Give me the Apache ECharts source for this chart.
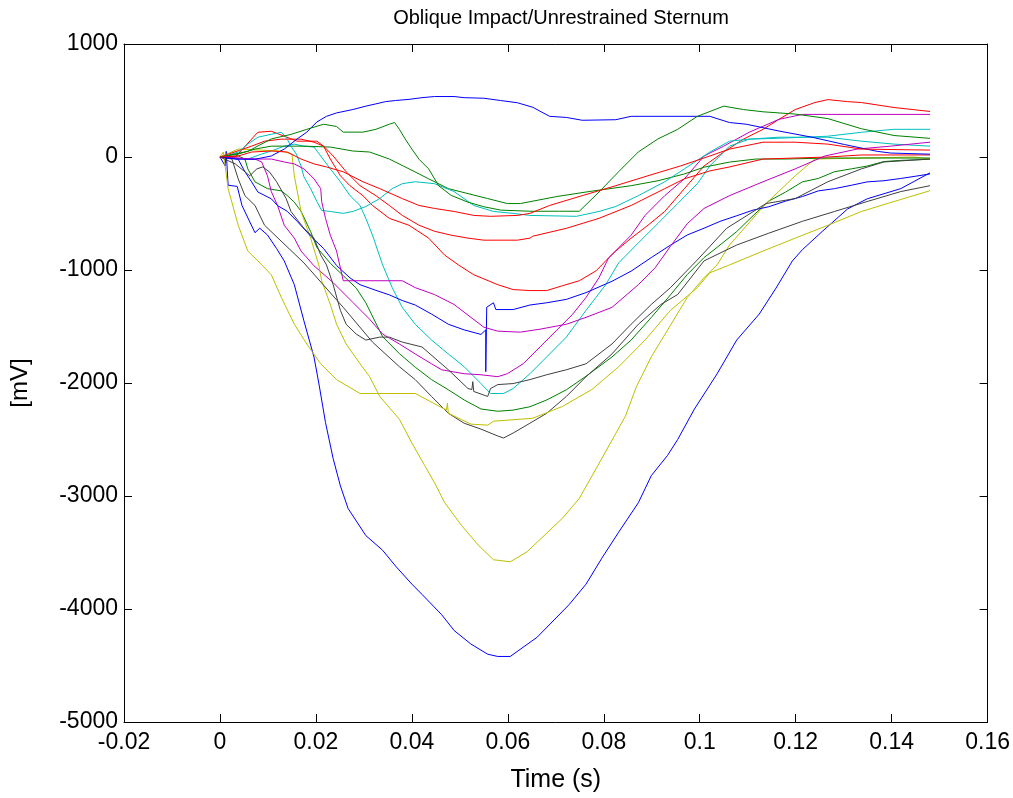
<!DOCTYPE html>
<html>
<head>
<meta charset="utf-8">
<title>Oblique Impact/Unrestrained Sternum</title>
<script src="https://cdn.jsdelivr.net/npm/echarts@6.0.0/dist/echarts.min.js"></script>
<style>
  html, body { margin: 0; padding: 0; background: #fff; }
  #chart { width: 1013px; height: 798px; }
</style>
</head>
<body>
<div id="chart"></div>
<script>
// axis ticks
var xTicks = [-0.02, 0, 0.02, 0.04, 0.06, 0.08, 0.1, 0.12, 0.14, 0.16];
var yTicks = [-5000, -4000, -3000, -2000, -1000, 0, 1000];

// traces [time s, mV]
var blue1 = [[0,0],[0.0011,-80],[0.0013,50],[0.0017,-250],[0.0036,-260],[0.0046,-430],[0.0073,-670],[0.0083,-630],[0.0099,-690],[0.0118,-810],[0.0134,-920],[0.0155,-1130],[0.0175,-1450],[0.0196,-1770],[0.0206,-2000],[0.022,-2350],[0.0236,-2670],[0.0251,-2910],[0.0267,-3110],[0.0304,-3350],[0.0339,-3480],[0.0366,-3620],[0.04,-3780],[0.0421,-3870],[0.0462,-4050],[0.0488,-4190],[0.0523,-4310],[0.0558,-4400],[0.0579,-4420],[0.0605,-4420],[0.0661,-4250],[0.0728,-3960],[0.0763,-3780],[0.0796,-3550],[0.0831,-3320],[0.0872,-3060],[0.0899,-2820],[0.0933,-2640],[0.0954,-2500],[0.0989,-2230],[0.1036,-1920],[0.1077,-1620],[0.1124,-1390],[0.1159,-1160],[0.1193,-920],[0.1214,-820],[0.1255,-660],[0.1308,-460],[0.1349,-370],[0.1419,-280],[0.148,-140]];
var green1 = [[0,0],[0.0038,9],[0.0052,-18],[0.0058,-105],[0.0073,-220],[0.0099,-280],[0.0128,-300],[0.014,-340],[0.0155,-400],[0.0169,-480],[0.0189,-660],[0.0202,-800],[0.023,-940],[0.0257,-1050],[0.0284,-1160],[0.0304,-1290],[0.0325,-1470],[0.0339,-1590],[0.0374,-1740],[0.0407,-1860],[0.0441,-1970],[0.0476,-2060],[0.0509,-2150],[0.0544,-2230],[0.0579,-2250],[0.0611,-2240],[0.0646,-2210],[0.0681,-2150],[0.0722,-2060],[0.0763,-1940],[0.0817,-1770],[0.0857,-1620],[0.0899,-1420],[0.0939,-1220],[0.0974,-1040],[0.1009,-890],[0.1036,-800],[0.1077,-660],[0.1111,-520],[0.1144,-390],[0.1179,-310],[0.1214,-220],[0.1247,-190],[0.1281,-130],[0.1316,-105],[0.1349,-80],[0.1384,-40],[0.1419,-30],[0.148,-20]];
var red1 = [[0,0],[0.0032,0],[0.0079,219],[0.0107,228],[0.0134,184],[0.0161,140],[0.0202,140],[0.0216,96],[0.023,-18],[0.0251,-166],[0.0271,-254],[0.0298,-342],[0.0318,-429],[0.0353,-543],[0.0394,-604],[0.0435,-718],[0.0468,-867],[0.0497,-955],[0.0529,-1042],[0.0544,-1068],[0.0579,-1130],[0.0611,-1173],[0.0646,-1182],[0.0681,-1182],[0.0714,-1139],[0.0749,-1095],[0.0784,-1007],[0.081,-893],[0.0825,-832],[0.0857,-718],[0.0892,-604],[0.0927,-482],[0.0968,-280],[0.1009,-79],[0.105,44],[0.1091,158],[0.1132,245],[0.1165,333],[0.1199,420],[0.124,482],[0.1267,508],[0.1308,490],[0.1337,482],[0.1405,438],[0.148,403]];
var cyan1 = [[0,0],[0.0058,-18],[0.0087,26],[0.0107,53],[0.0134,96],[0.0155,114],[0.0175,96],[0.0196,88],[0.021,9],[0.023,-105],[0.0251,-219],[0.0271,-342],[0.0292,-429],[0.0304,-543],[0.0318,-692],[0.0339,-955],[0.0359,-1156],[0.038,-1331],[0.0407,-1480],[0.0441,-1620],[0.0476,-1743],[0.0509,-1856],[0.0544,-2005],[0.0564,-2093],[0.0591,-2093],[0.0611,-2049],[0.0646,-1918],[0.0681,-1769],[0.0722,-1594],[0.0763,-1357],[0.0804,-1130],[0.0831,-937],[0.0872,-760],[0.0913,-587],[0.0954,-412],[0.0995,-236],[0.1021,-79],[0.1062,96],[0.1103,158],[0.1165,166],[0.1267,184],[0.1337,219],[0.1405,245],[0.148,245]];
var magenta1 = [[0,0],[0.0073,-18],[0.0087,-44],[0.0099,-166],[0.0107,-306],[0.012,-429],[0.0134,-604],[0.0155,-718],[0.0169,-832],[0.0196,-963],[0.0236,-1112],[0.0277,-1287],[0.0312,-1436],[0.0339,-1567],[0.0374,-1655],[0.0407,-1743],[0.0441,-1830],[0.0462,-1883],[0.0509,-1918],[0.0544,-1927],[0.0579,-1944],[0.0599,-1918],[0.0632,-1830],[0.0667,-1681],[0.0702,-1532],[0.0735,-1392],[0.0763,-1243],[0.079,-1068],[0.081,-893],[0.0857,-692],[0.0886,-517],[0.0927,-342],[0.0968,-193],[0.1009,9],[0.105,96],[0.1103,219],[0.1165,333],[0.1214,377],[0.1267,377],[0.148,377]];
var yellow1 = [[0,0],[0.0038,70],[0.0128,53],[0.015,26],[0.0155,-166],[0.0169,-482],[0.0189,-718],[0.0206,-955],[0.0212,-1095],[0.023,-1305],[0.0243,-1480],[0.0263,-1655],[0.0292,-1830],[0.0312,-1944],[0.0333,-2119],[0.0374,-2321],[0.04,-2531],[0.0427,-2732],[0.0447,-2881],[0.0468,-3056],[0.0503,-3258],[0.0538,-3433],[0.057,-3564],[0.0605,-3582],[0.064,-3494],[0.0714,-3196],[0.0749,-3021],[0.0784,-2758],[0.0845,-2294],[0.0868,-2032],[0.0899,-1769],[0.0939,-1489],[0.0974,-1243],[0.1009,-1068],[0.1036,-955],[0.1062,-779],[0.1138,-412],[0.1199,-166],[0.124,-18],[0.1337,-9],[0.1446,0],[0.148,-18]];
var gray1 = [[0,0],[0.0025,-18],[0.0038,-193],[0.0052,-342],[0.0073,-429],[0.0093,-604],[0.0175,-937],[0.0257,-1331],[0.0318,-1638],[0.0374,-1856],[0.0407,-1970],[0.0441,-2119],[0.0476,-2268],[0.0509,-2356],[0.0544,-2408],[0.0579,-2469],[0.0591,-2487],[0.0611,-2443],[0.0646,-2356],[0.0681,-2268],[0.0722,-2119],[0.0763,-1944],[0.0817,-1743],[0.0872,-1480],[0.0919,-1305],[0.0954,-1217],[0.1009,-919],[0.1077,-779],[0.1144,-674],[0.1214,-569],[0.1281,-482],[0.1349,-394],[0.1419,-306],[0.148,-254]];
var blue2 = [[0,0],[0.0038,-20],[0.0052,-130],[0.0066,-220],[0.0079,-310],[0.0107,-370],[0.012,-430],[0.014,-480],[0.0161,-570],[0.0189,-700],[0.0216,-810],[0.0243,-960],[0.0271,-1070],[0.0292,-1130],[0.0325,-1180],[0.0353,-1220],[0.038,-1270],[0.0407,-1310],[0.0441,-1390],[0.0476,-1480],[0.0509,-1530],[0.0544,-1570],[0.0554,-1530],[0.0554,-1900],[0.0556,-1330],[0.057,-1290],[0.0575,-1350],[0.0611,-1350],[0.0646,-1310],[0.0681,-1290],[0.0722,-1260],[0.0763,-1200],[0.0817,-1100],[0.0857,-1010],[0.0899,-890],[0.0939,-780],[0.0974,-690],[0.1009,-630],[0.1042,-570],[0.1077,-520],[0.1111,-470],[0.1144,-440],[0.1179,-390],[0.1214,-350],[0.1247,-300],[0.1281,-280],[0.1316,-250],[0.1349,-220],[0.1384,-210],[0.1419,-190],[0.145,-170],[0.148,-150]];
var green2 = [[0,0],[0.0038,26],[0.0073,70],[0.0107,96],[0.014,96],[0.0175,96],[0.023,88],[0.0277,53],[0.0312,44],[0.0353,-18],[0.0394,-105],[0.0435,-193],[0.0476,-280],[0.0517,-324],[0.0558,-368],[0.0599,-412],[0.0626,-412],[0.0702,-350],[0.0769,-306],[0.0857,-254],[0.0913,-210],[0.0968,-150],[0.1009,-90],[0.1062,-45],[0.1117,-18],[0.1179,-18],[0.1267,-9],[0.148,-9]];
var red2 = [[0,0],[0.0066,96],[0.0093,140],[0.0128,158],[0.0169,158],[0.0196,131],[0.0216,96],[0.0236,9],[0.0263,-131],[0.0292,-254],[0.0325,-342],[0.0353,-429],[0.038,-517],[0.0415,-604],[0.0447,-657],[0.0482,-692],[0.0517,-718],[0.055,-736],[0.062,-736],[0.0646,-718],[0.0652,-701],[0.0722,-631],[0.079,-543],[0.0857,-429],[0.0927,-280],[0.0968,-193],[0.1021,-123],[0.1062,-88],[0.1132,-18],[0.1199,-9],[0.1267,0],[0.1337,18],[0.148,18]];
var cyan2 = [[0,0],[0.0005,0],[0.0038,44],[0.0058,114],[0.0079,175],[0.0107,201],[0.0128,219],[0.0138,175],[0.0148,96],[0.0159,26],[0.0169,-79],[0.0175,-175],[0.0189,-280],[0.0202,-394],[0.0212,-473],[0.023,-482],[0.0257,-499],[0.0277,-482],[0.0304,-438],[0.0333,-368],[0.0359,-280],[0.038,-236],[0.0407,-219],[0.0447,-236],[0.0488,-306],[0.0529,-429],[0.057,-482],[0.0611,-499],[0.0646,-517],[0.0743,-525],[0.079,-482],[0.0825,-438],[0.0872,-342],[0.0927,-219],[0.0968,-105],[0.1021,44],[0.1062,140],[0.1103,158],[0.1165,175],[0.1267,175],[0.1337,140],[0.1405,114],[0.148,96]];
var magenta2 = [[0,0],[0.0058,-18],[0.0107,-18],[0.0134,-44],[0.0155,-61],[0.0175,-105],[0.0196,-193],[0.021,-280],[0.0212,-394],[0.022,-543],[0.023,-692],[0.0243,-832],[0.0257,-1095],[0.038,-1095],[0.0407,-1156],[0.0447,-1217],[0.0488,-1305],[0.0523,-1419],[0.055,-1506],[0.0579,-1541],[0.0626,-1550],[0.0667,-1524],[0.0722,-1480],[0.0763,-1419],[0.0817,-1331],[0.0872,-1130],[0.0907,-980],[0.0939,-790],[0.0974,-590],[0.1009,-455],[0.1062,-342],[0.1132,-219],[0.1199,-105],[0.1261,9],[0.1328,70],[0.1398,96],[0.148,131]];
var yellow2 = [[0,0],[0.0007,44],[0.0017,-280],[0.0038,-604],[0.0058,-832],[0.0079,-919],[0.0107,-1042],[0.0128,-1243],[0.0155,-1480],[0.0181,-1655],[0.021,-1830],[0.0243,-1970],[0.0292,-2093],[0.0407,-2093],[0.0472,-2240],[0.0474,-2180],[0.0476,-2268],[0.0523,-2364],[0.0558,-2373],[0.057,-2338],[0.0652,-2312],[0.0714,-2207],[0.0775,-2058],[0.0831,-1856],[0.0886,-1620],[0.0939,-1357],[0.0995,-1156],[0.1021,-1025],[0.1062,-955],[0.1132,-832],[0.1199,-718],[0.1267,-604],[0.1337,-482],[0.1405,-394],[0.148,-298]];
var gray2 = [[0,0],[0.0032,-61],[0.0062,-166],[0.0077,-105],[0.0089,-88],[0.0103,-131],[0.0118,-219],[0.0138,-368],[0.0148,-482],[0.0175,-631],[0.0196,-718],[0.021,-867],[0.0222,-955],[0.0236,-1130],[0.0251,-1357],[0.0263,-1480],[0.0284,-1567],[0.0304,-1620],[0.0333,-1594],[0.0353,-1594],[0.038,-1638],[0.0421,-1681],[0.0476,-1883],[0.0517,-2049],[0.0525,-2058],[0.0527,-1988],[0.0529,-2075],[0.0558,-2119],[0.0564,-2049],[0.0579,-2014],[0.0611,-2005],[0.0646,-1970],[0.0681,-1927],[0.0722,-1883],[0.0763,-1830],[0.0817,-1655],[0.0857,-1480],[0.0899,-1305],[0.0939,-1156],[0.0995,-911],[0.1056,-631],[0.1138,-412],[0.1199,-368],[0.1267,-219],[0.1337,-105],[0.1384,-44],[0.148,-18]];
var blue3 = [[0,0],[0.0038,-20],[0.0073,-20],[0.0107,9],[0.0134,70],[0.0161,160],[0.0181,220],[0.0202,310],[0.0222,360],[0.0243,390],[0.0277,420],[0.0304,450],[0.0325,470],[0.0345,490],[0.0366,500],[0.0394,510],[0.0421,525],[0.0447,535],[0.0488,535],[0.0509,525],[0.055,520],[0.0585,500],[0.062,480],[0.0652,440],[0.0687,360],[0.0722,350],[0.0755,325],[0.0825,330],[0.0857,360],[0.1021,360],[0.1062,305],[0.1097,290],[0.1165,230],[0.1234,175],[0.1302,110],[0.137,50],[0.1398,35],[0.148,25]];
var green3 = [[0,0],[0.0058,50],[0.0107,160],[0.0148,200],[0.0181,245],[0.0216,290],[0.0243,270],[0.0257,220],[0.0298,220],[0.0325,245],[0.0353,290],[0.0364,305],[0.0374,245],[0.0386,160],[0.04,70],[0.0415,-20],[0.0435,-105],[0.0456,-255],[0.0482,-340],[0.0517,-400],[0.055,-440],[0.0585,-470],[0.0646,-480],[0.0708,-480],[0.0749,-480],[0.079,-310],[0.0831,-130],[0.0872,45],[0.0913,160],[0.0954,245],[0.0995,360],[0.105,450],[0.1091,420],[0.1132,400],[0.1199,380],[0.1267,340],[0.1337,250],[0.1405,190],[0.148,165]];
var red3 = [[0,0],[0.0038,9],[0.0066,44],[0.0107,53],[0.014,44],[0.0169,-18],[0.0196,-61],[0.0222,-88],[0.0257,-131],[0.0298,-219],[0.0333,-280],[0.038,-368],[0.0415,-429],[0.0447,-455],[0.0488,-482],[0.0529,-517],[0.0564,-525],[0.062,-517],[0.0646,-499],[0.0687,-429],[0.0755,-342],[0.0825,-254],[0.0892,-166],[0.096,-79],[0.1021,9],[0.1062,70],[0.1132,131],[0.1199,131],[0.1267,114],[0.1337,70],[0.148,61]];

// matlab plotting order and colours
var traces = [blue1, green1, red1, cyan1, magenta1, yellow1, gray1,
              blue2, green2, red2, cyan2, magenta2, yellow2, gray2,
              blue3, green3, red3];
var colors = ['#0000ff', '#008000', '#ff0000', '#00bfbf', '#bf00bf', '#bfbf00', '#404040'];

var fontFamily = 'Liberation Sans, Arial, sans-serif';

function axisBase(show) {
    return {
        axisLine: { show: true, onZero: false, lineStyle: { color: '#000', width: 1 } },
        axisTick: { show: true, inside: true, length: 8, lineStyle: { color: '#000' } },
        axisLabel: { show: show, color: '#000', fontSize: 23, fontFamily: fontFamily },
        splitLine: { show: false }
    };
}

var myChart = echarts.init(document.getElementById('chart'), null, { renderer: 'canvas' });

var xBottom = axisBase(true);
xBottom.type = 'value';
xBottom.position = 'bottom';
xBottom.min = xTicks[0];
xBottom.max = xTicks[xTicks.length - 1];
xBottom.interval = 0.02;
xBottom.axisLabel.margin = 9;
xBottom.axisLabel.formatter = function (v) { return String(+v.toFixed(2)); };
xBottom.name = 'Time (s)';
xBottom.nameLocation = 'middle';
xBottom.nameGap = 46;
xBottom.nameTextStyle = { color: '#000', fontSize: 25, fontFamily: fontFamily };

var xTop = axisBase(false);
xTop.type = 'value';
xTop.position = 'top';
xTop.min = xBottom.min;
xTop.max = xBottom.max;
xTop.interval = 0.02;

var yLeft = axisBase(true);
yLeft.type = 'value';
yLeft.position = 'left';
yLeft.min = yTicks[0];
yLeft.max = yTicks[yTicks.length - 1];
yLeft.interval = 1000;
yLeft.axisLabel.margin = 6;
yLeft.axisLabel.formatter = function (v) { return String(v); };
yLeft.name = '[mV]';
yLeft.nameLocation = 'middle';
yLeft.nameRotate = 90;
yLeft.nameGap = 92;
yLeft.nameTextStyle = { color: '#000', fontSize: 24, fontFamily: fontFamily };

var yRight = axisBase(false);
yRight.type = 'value';
yRight.position = 'right';
yRight.min = yLeft.min;
yRight.max = yLeft.max;
yRight.interval = 1000;

var series = [];
for (var i = 0; i < traces.length; i++) {
    series.push({
        type: 'line',
        xAxisIndex: 0,
        yAxisIndex: 0,
        data: traces[i],
        showSymbol: false,
        symbol: 'none',
        silent: true,
        lineStyle: { color: colors[i % colors.length], width: 1 },
        z: 2 + i
    });
}

var option = {
    animation: false,
    backgroundColor: '#fff',
    title: {
        text: 'Oblique Impact/Unrestrained Sternum',
        left: 556,
        textAlign: 'center',
        top: 3,
        textStyle: { color: '#000', fontWeight: 'normal', fontSize: 20, fontFamily: fontFamily }
    },
    grid: { left: 117, right: 18, top: 44, bottom: 69, containLabel: false },
    xAxis: [xBottom, xTop],
    yAxis: [yLeft, yRight],
    series: series
};

myChart.setOption(option);
</script>
</body>
</html>
